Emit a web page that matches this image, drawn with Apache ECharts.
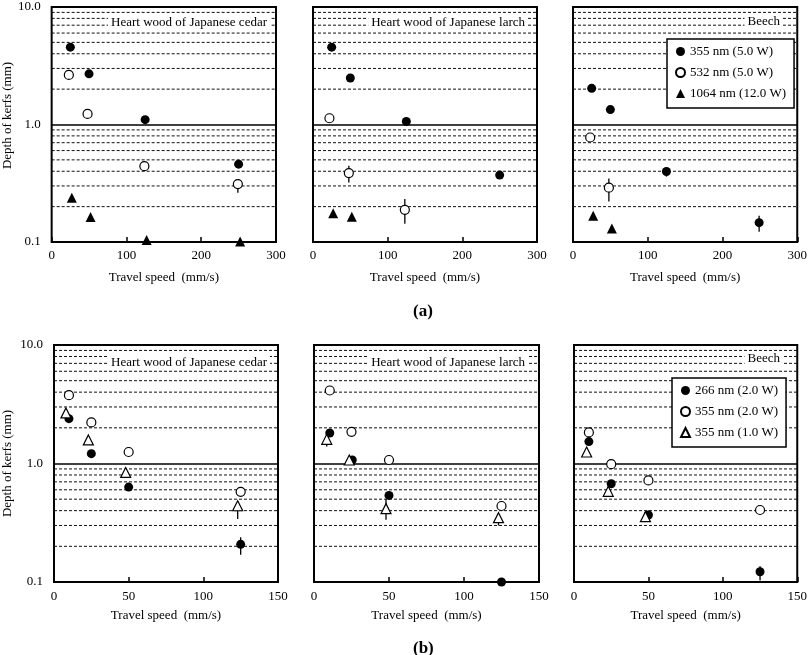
<!DOCTYPE html>
<html><head><meta charset="utf-8">
<script src="https://cdn.jsdelivr.net/npm/echarts@6/dist/echarts.min.js"></script>
<style>html,body{margin:0;padding:0;background:#fff}#c{width:810px;height:655px}</style>
</head><body><div id="c"></div>
<script>
// ---------- DATA ----------
// (a) top row: travel speed 0-300 mm/s
const panelTitlesA = ['Heart wood of Japanese cedar', 'Heart wood of Japanese larch', 'Beech'];
const seriesNamesA = ['355 nm (5.0 W)', '532 nm (5.0 W)', '1064 nm (12.0 W)'];
const cedarA_355_x = [25, 50, 125, 250];
const cedarA_355_y = [4.55, 2.70, 1.10, 0.46];
const cedarA_532_x = [23, 48, 124, 249];
const cedarA_532_y = [2.64, 1.23, 0.442, 0.311];
const cedarA_1064_x = [27, 52, 127, 252];
const cedarA_1064_y = [0.238, 0.163, 0.104, 0.101];
const larchA_355_x = [25, 50, 125, 250];
const larchA_355_y = [4.55, 2.49, 1.06, 0.371];
const larchA_532_x = [22, 48, 123];
const larchA_532_y = [1.13, 0.386, 0.188];
const larchA_1064_x = [27, 52];
const larchA_1064_y = [0.176, 0.164];
const beechA_355_x = [25, 50, 125, 249];
const beechA_355_y = [2.03, 1.34, 0.398, 0.146];
const beechA_532_x = [23, 48];
const beechA_532_y = [0.775, 0.29];
const beechA_1064_x = [27, 52];
const beechA_1064_y = [0.167, 0.130];
// error bars: [speed, low, high]
const cedarA_err = [[23, 2.45, 2.80], [48, 1.15, 1.31], [124, 0.41, 0.48], [249, 0.262, 0.343], [250, 0.44, 0.48]];
const larchA_err = [[22, 1.08, 1.18], [48, 0.321, 0.446], [123, 0.143, 0.232]];
const beechA_err = [[23, 0.716, 0.816], [48, 0.221, 0.347], [125, 0.36, 0.43], [249, 0.122, 0.167]];

// (b) bottom row: travel speed 0-150 mm/s
const panelTitlesB = ['Heart wood of Japanese cedar', 'Heart wood of Japanese larch', 'Beech'];
const seriesNamesB = ['266 nm (2.0 W)', '355 nm (2.0 W)', '355 nm (1.0 W)'];
const cedarB_266_x = [10, 25, 50, 125];
const cedarB_266_y = [2.39, 1.21, 0.632, 0.208];
const cedarB_355h_x = [10, 25, 50, 125];
const cedarB_355h_y = [3.77, 2.22, 1.25, 0.577];
const cedarB_355l_x = [8, 23, 48, 123];
const cedarB_355l_y = [2.67, 1.58, 0.84, 0.44];
const larchB_266_x = [10.5, 25.5, 50, 125];
const larchB_266_y = [1.81, 1.07, 0.538, 0.1];
const larchB_355h_x = [10.5, 25, 50, 125];
const larchB_355h_y = [4.13, 1.85, 1.07, 0.438];
const larchB_355l_x = [8.5, 23.5, 48, 123];
const larchB_355l_y = [1.60, 1.07, 0.416, 0.349];
const beechB_266_x = [10, 25, 50, 125];
const beechB_266_y = [1.53, 0.675, 0.368, 0.122];
const beechB_355h_x = [10, 25, 50, 125];
const beechB_355h_y = [1.83, 0.987, 0.72, 0.405];
const beechB_355l_x = [8.5, 23, 48];
const beechB_355l_y = [1.25, 0.582, 0.356];
const cedarB_err = [[10, 2.25, 2.52], [123, 0.34, 0.478], [125, 0.170, 0.239]];
const larchB_err = [[8.5, 1.39, 1.72], [48, 0.336, 0.50], [123, 0.30, 0.38]];
const beechB_err = [[23, 0.535, 0.62], [48, 0.33, 0.39], [50, 0.34, 0.40], [125, 0.103, 0.136]];

// axes
const yTickValues = [0.1, 1, 10];
const minorGridValues = [0.2, 0.3, 0.4, 0.5, 0.6, 0.7, 0.8, 0.9, 2, 3, 4, 5, 6, 7, 8, 9];
const xMaxA = 300, xIntA = 100;
const xMaxB = 150, xIntB = 50;
const xLabel = 'Travel speed  (mm/s)';
const yLabel = 'Depth of kerfs (mm)';

// ---------- CHART ----------
const FONT = '"Liberation Serif", "Times New Roman", serif';
const zip = (xs, ys) => xs.map((x, i) => [x, ys[i]]);

const gridsPx = [
  {left: 51, width: 225, top: 7, height: 235},
  {left: 313, width: 224, top: 7, height: 235},
  {left: 573, width: 225, top: 7, height: 235},
  {left: 54, width: 224, top: 345, height: 237},
  {left: 314, width: 225, top: 345, height: 237},
  {left: 574, width: 225, top: 345, height: 237}
];

const grid = gridsPx.map(g => Object.assign({show: true, borderColor: '#000', borderWidth: 2, backgroundColor: 'transparent', containLabel: false}, g));

const xAxis = gridsPx.map((g, i) => {
  const top = i < 3;
  return {
    type: 'value', gridIndex: i, min: 0, max: top ? xMaxA : xMaxB, interval: top ? xIntA : xIntB,
    axisLine: {show: false},
    axisTick: {show: true, inside: true, length: 5, lineStyle: {color: '#000', width: 1.5}},
    axisLabel: {color: '#000', fontFamily: FONT, fontSize: 13, margin: top ? 7 : 8},
    splitLine: {show: false},
    name: xLabel, nameLocation: 'middle', nameGap: top ? 29 : 27,
    nameTextStyle: {color: '#000', fontFamily: FONT, fontSize: 13}
  };
});

const yAxis = gridsPx.map((g, i) => {
  const left = (i === 0 || i === 3);
  return {
    type: 'log', logBase: 10, gridIndex: i, min: yTickValues[0], max: yTickValues[2],
    axisLine: {show: false},
    axisTick: {show: false},
    axisLabel: {show: left, color: '#000', fontFamily: FONT, fontSize: 13, margin: 11,
      formatter: v => Number(v).toFixed(1)},
    splitLine: {show: true, lineStyle: {color: '#000', width: 1.6}},
    name: left ? yLabel : '', nameLocation: 'middle', nameGap: i === 0 ? 37 : 40,
    nameTextStyle: {color: '#000', fontFamily: FONT, fontSize: 13,
      padding: i === 0 ? [0, 0, 0, 18] : 0}
  };
});

const series = [];
// minor dashed gridlines
gridsPx.forEach((g, i) => {
  const xmax = i < 3 ? xMaxA : xMaxB;
  series.push({
    type: 'custom', xAxisIndex: i, yAxisIndex: i, silent: true, z: 1,
    data: minorGridValues.map(v => [0, v]),
    encode: {x: 0, y: 1},
    renderItem: (params, api) => {
      const v = api.value(1);
      const p1 = api.coord([0, v]), p2 = api.coord([xmax, v]);
      return {type: 'line', shape: {x1: p1[0], y1: p1[1], x2: p2[0], y2: p2[1]},
        style: {stroke: '#111', lineWidth: 1, lineDash: [3, 2]}};
    }
  });
});

function errSeries(i, data) {
  return {
    type: 'custom', xAxisIndex: i, yAxisIndex: i, silent: true, z: 2,
    data: data, encode: {x: 0, y: [1, 2]},
    renderItem: (params, api) => {
      const a = api.coord([api.value(0), api.value(1)]);
      const b = api.coord([api.value(0), api.value(2)]);
      return {type: 'line', shape: {x1: a[0], y1: a[1], x2: b[0], y2: b[1]},
        style: {stroke: '#000', lineWidth: 1.3}};
    }
  };
}

const styles = {
  filledCircle: {symbol: 'circle', symbolSize: 9, itemStyle: {color: '#000', borderColor: '#000', borderWidth: 0, opacity: 1}},
  openCircle: {symbol: 'circle', symbolSize: 9, itemStyle: {color: '#fff', borderColor: '#000', borderWidth: 1.2, opacity: 1}},
  filledTri: {symbol: 'triangle', symbolSize: 10, itemStyle: {color: '#000', borderColor: '#000', borderWidth: 0, opacity: 1}},
  openTri: {symbol: 'triangle', symbolSize: 10, itemStyle: {color: '#fff', borderColor: '#000', borderWidth: 1.2, opacity: 1}}
};

function sc(i, name, data, style) {
  return Object.assign({type: 'scatter', name: name, xAxisIndex: i, yAxisIndex: i, clip: false, z: 3,
    data: data, emphasis: {disabled: true}}, JSON.parse(JSON.stringify(style)));
}

// top row
series.push(errSeries(0, cedarA_err), errSeries(1, larchA_err), errSeries(2, beechA_err));
series.push(sc(0, seriesNamesA[0], zip(cedarA_355_x, cedarA_355_y), styles.filledCircle));
series.push(sc(0, seriesNamesA[1], zip(cedarA_532_x, cedarA_532_y), styles.openCircle));
series.push(sc(0, seriesNamesA[2], zip(cedarA_1064_x, cedarA_1064_y), styles.filledTri));
series.push(sc(1, seriesNamesA[0], zip(larchA_355_x, larchA_355_y), styles.filledCircle));
series.push(sc(1, seriesNamesA[1], zip(larchA_532_x, larchA_532_y), styles.openCircle));
series.push(sc(1, seriesNamesA[2], zip(larchA_1064_x, larchA_1064_y), styles.filledTri));
series.push(sc(2, seriesNamesA[0], zip(beechA_355_x, beechA_355_y), styles.filledCircle));
series.push(sc(2, seriesNamesA[1], zip(beechA_532_x, beechA_532_y), styles.openCircle));
series.push(sc(2, seriesNamesA[2], zip(beechA_1064_x, beechA_1064_y), styles.filledTri));
// bottom row
series.push(errSeries(3, cedarB_err), errSeries(4, larchB_err), errSeries(5, beechB_err));
series.push(sc(3, seriesNamesB[0], zip(cedarB_266_x, cedarB_266_y), styles.filledCircle));
series.push(sc(3, seriesNamesB[1], zip(cedarB_355h_x, cedarB_355h_y), styles.openCircle));
series.push(sc(3, seriesNamesB[2], zip(cedarB_355l_x, cedarB_355l_y), styles.openTri));
series.push(sc(4, seriesNamesB[0], zip(larchB_266_x, larchB_266_y), styles.filledCircle));
series.push(sc(4, seriesNamesB[1], zip(larchB_355h_x, larchB_355h_y), styles.openCircle));
series.push(sc(4, seriesNamesB[2], zip(larchB_355l_x, larchB_355l_y), styles.openTri));
series.push(sc(5, seriesNamesB[0], zip(beechB_266_x, beechB_266_y), styles.filledCircle));
series.push(sc(5, seriesNamesB[1], zip(beechB_355h_x, beechB_355h_y), styles.openCircle));
series.push(sc(5, seriesNamesB[2], zip(beechB_355l_x, beechB_355l_y), styles.openTri));

const titlePos = [
  {right: 540, top: 15}, {right: 282, top: 15}, {right: 27, top: 14},
  {right: 540, top: 355}, {right: 282, top: 355}, {right: 27, top: 351}
];
const titles = titlePos.map((p, i) => Object.assign({
  text: (i < 3 ? panelTitlesA : panelTitlesB)[i % 3],
  backgroundColor: '#fff', padding: [1, 3],
  textStyle: {color: '#000', fontFamily: FONT, fontSize: 13, fontWeight: 'normal'}
}, p));

const legendCommon = {
  orient: 'vertical', backgroundColor: '#fff', borderColor: '#000', borderWidth: 1.5,
  padding: [6, 8, 8, 8], itemGap: 8, itemWidth: 9, itemHeight: 9, selectedMode: false,
  textStyle: {color: '#000', fontFamily: FONT, fontSize: 13}
};

const option = {
  backgroundColor: '#fff',
  animation: false,
  title: titles,
  grid: grid,
  xAxis: xAxis,
  yAxis: yAxis,
  legend: [
    Object.assign({left: 667, top: 39, data: seriesNamesA}, legendCommon),
    Object.assign({left: 672, top: 378, data: seriesNamesB}, legendCommon)
  ],
  graphic: [
    {type: 'text', left: 413, top: 303, style: {text: '(a)', font: 'bold 17px ' + FONT, fill: '#000'}},
    {type: 'text', left: 413, top: 640, style: {text: '(b)', font: 'bold 17px ' + FONT, fill: '#000'}}
  ],
  series: series
};

const chart = echarts.init(document.getElementById('c'), null, {renderer: 'canvas'});
chart.setOption(option);
</script>
</body></html>
